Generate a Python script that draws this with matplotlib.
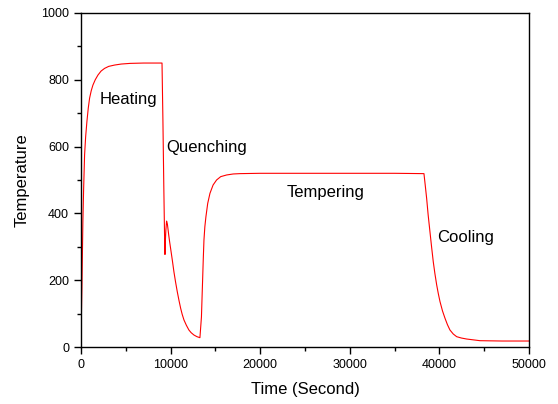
import matplotlib
matplotlib.use("Agg")
import matplotlib.pyplot as plt
from matplotlib.ticker import MultipleLocator

# Time (s) and temperature values
time_s = [0, 50, 110, 220, 300, 410, 530, 670, 820, 970, 1150, 1340, 1600, 1900,
          2250, 2640, 3100, 3760, 4500, 5500, 7000, 9050,
          9150, 9250, 9330, 9380, 9430, 9480, 9560, 9650, 9800, 9900, 10010,
          10200, 10380, 10560, 10750, 10940, 11130, 11300, 11500, 11770, 12050,
          12300, 12610, 12950, 13280,
          13450, 13520, 13580, 13650, 13730, 13830, 13950, 14150, 14400, 14750,
          15140, 15600, 16260, 17000, 17750, 20000, 25000, 30000, 35000, 38280,
          38420, 38580, 38750, 38950, 39130, 39320, 39500, 39700, 39880, 40070,
          40350, 40630, 40900, 41180, 41550, 41930, 42450, 43040, 44530, 47000,
          50000]
temperature = [0, 90, 175, 375, 470, 575, 630, 675, 715, 745, 767, 784, 800, 814,
               826, 834, 840, 844, 847, 849, 850, 850,
               680, 480, 340, 277, 320, 350, 377, 368, 335, 315, 295,
               260, 225, 195, 166, 140, 116, 98, 81, 65, 51,
               43, 36, 31, 28,
               90, 150, 200, 260, 320, 360, 390, 430, 460, 485,
               500, 510, 515, 518, 519, 520, 520, 520, 520, 519,
               485, 445, 395, 345, 300, 255, 220, 186, 160, 136,
               108, 86, 67, 51, 39, 31, 27, 24, 19, 18,
               18]

stage_labels = ["Heating", "Quenching", "Tempering", "Cooling"]
stage_x = [2100, 9500, 22900, 39800]
stage_y = [742, 598, 463, 328]

plt.rcParams['font.family'] = ['Liberation Sans', 'DejaVu Sans']

fig = plt.figure(figsize=(5.58, 4.04), dpi=100)
ax = fig.add_axes([0.145, 0.141, 0.803, 0.827])
ax.plot(time_s, temperature, color='#ff0000', linewidth=0.8)

for lab, x, y in zip(stage_labels, stage_x, stage_y):
    ax.text(x, y, lab, fontsize=12, ha='left', va='center')

ax.set_xlim(0, 50000)
ax.set_ylim(0, 1000)
ax.xaxis.set_major_locator(MultipleLocator(10000))
ax.xaxis.set_minor_locator(MultipleLocator(5000))
ax.yaxis.set_major_locator(MultipleLocator(200))
ax.yaxis.set_minor_locator(MultipleLocator(100))
ax.tick_params(which='both', direction='out', top=False, right=False, labelsize=9)
ax.tick_params(which='major', length=5, width=1)
ax.tick_params(which='minor', length=3, width=1)
for s in ax.spines.values():
    s.set_linewidth(1)

ax.set_xlabel("Time (Second)", fontsize=12, labelpad=8)
ax.set_ylabel("Temperature", fontsize=12, labelpad=8)

fig.savefig("out.png", dpi=100)
